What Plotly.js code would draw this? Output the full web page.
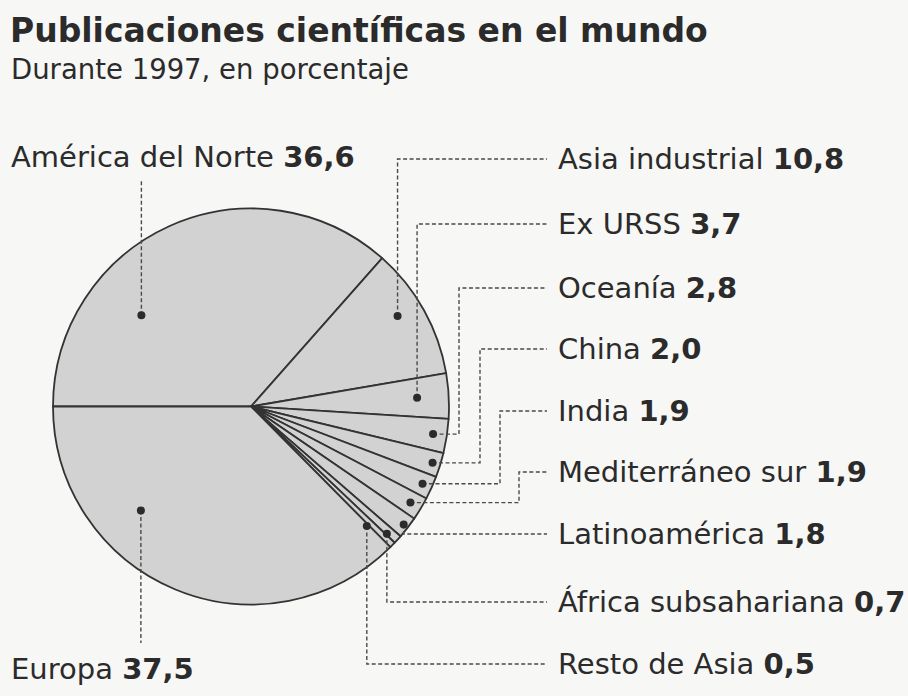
<!DOCTYPE html>
<html>
<head>
<meta charset="utf-8">
<script src="https://cdn.plot.ly/plotly-3.0.1.min.js"></script>
<style>
  html, body { margin: 0; padding: 0; background: #f7f7f6; }
  #chart { width: 908px; height: 696px; }
</style>
</head>
<body>
<div id="chart"></div>
<script>
const W = 908, H = 696;

// clockwise from 9 o'clock
const regions = ['América del Norte', 'Asia industrial', 'Ex URSS', 'Oceanía', 'China', 'India',
    'Mediterráneo sur', 'Latinoamérica', 'África subsahariana', 'Resto de Asia', 'Europa'];
const shares = [36.6, 10.8, 3.7, 2.8, 2.0, 1.9, 1.9, 1.8, 0.7, 0.5, 37.5];

// label layout (pixels)
const labelX = [10, 557, 557, 557, 557, 557, 557, 557, 557, 557, 10];
const labelY = [157, 159, 224, 288, 349, 411, 472, 534, 602, 664, 669];
const elbowX = [null, null, null, 459, 480, 500, 519, null, null, null, null];
const dotFrac = [0.72, 0.87, 0.84, 0.93, 0.96, 0.95, 0.94, 0.975, 0.94, 0.84, 0.765];
const dotShift = [-26, -2.6, 0, 0, 0, 0, 0, 0, 0.9, 1.5, 24];
const tipY = [180, null, null, null, null, null, null, null, null, null, 643];
const leaderEnd = 547;

const pie = {cx: 251, cy: 406.5, r: 198};
const ink = '#2b2b2b';
const px = x => x / W;
const py = y => 1 - y / H;

const total = shares.reduce((a, b) => a + b, 0);
let cum = 0;
const mids = shares.map(v => {
    const m = 270 + 360 * (cum + v / 2) / total;
    cum += v;
    return m;
});

let shapes = [];
let annotations = [];

regions.forEach((name, i) => {
    const phi = (mids[i] + dotShift[i]) * Math.PI / 180;
    const dx = pie.cx + pie.r * dotFrac[i] * Math.sin(phi);
    const dy = pie.cy - pie.r * dotFrac[i] * Math.cos(phi);

    let pts;
    if (tipY[i] !== null) {
        pts = [[dx, dy], [dx, tipY[i]]];
    } else if (elbowX[i] !== null) {
        pts = [[dx, dy], [elbowX[i], dy], [elbowX[i], labelY[i]], [leaderEnd, labelY[i]]];
    } else {
        pts = [[dx, dy], [dx, labelY[i]], [leaderEnd, labelY[i]]];
    }
    shapes.push({
        type: 'path', xref: 'paper', yref: 'paper',
        path: pts.map((p, k) => (k ? 'L' : 'M') + px(p[0]) + ',' + py(p[1])).join(' '),
        line: {color: '#4a4a4a', width: 1.4, dash: '4px,2.5px'}
    });
    shapes.push({
        type: 'circle', xref: 'paper', yref: 'paper',
        x0: px(dx - 4), x1: px(dx + 4), y0: py(dy + 4), y1: py(dy - 4),
        fillcolor: ink, line: {width: 0}
    });

    const val = shares[i].toFixed(1).replace('.', ',');
    annotations.push({
        xref: 'paper', yref: 'paper', x: px(labelX[i]), y: py(labelY[i]),
        xanchor: 'left', yanchor: 'middle', showarrow: false, borderpad: 0,
        text: name + ' <b>' + val + '</b>',
        font: {family: 'DejaVu Sans', size: 29, color: ink}
    });
});

annotations.push({
    xref: 'paper', yref: 'paper', x: px(10), y: py(69),
    xanchor: 'left', yanchor: 'middle', showarrow: false, borderpad: 0,
    text: 'Durante 1997, en porcentaje',
    font: {family: 'DejaVu Sans', size: 27.5, color: ink}
});

const trace = {
    type: 'pie',
    labels: regions,
    values: shares,
    sort: false,
    direction: 'clockwise',
    rotation: 270,
    textinfo: 'none',
    hoverinfo: 'skip',
    domain: {x: [px(pie.cx - pie.r), px(pie.cx + pie.r)], y: [py(pie.cy + pie.r), py(pie.cy - pie.r)]},
    marker: {
        colors: regions.map(() => '#d2d2d2'),
        line: {color: '#333', width: 1.8}
    }
};

const layout = {
    width: W,
    height: H,
    margin: {l: 0, r: 0, t: 0, b: 0},
    paper_bgcolor: '#f7f7f6',
    showlegend: false,
    title: {
        text: '<b>Publicaciones científicas en el mundo</b>',
        font: {family: 'DejaVu Sans', size: 33, color: ink},
        xref: 'paper', yref: 'container',
        x: px(10), xanchor: 'left',
        y: py(30), yanchor: 'middle'
    },
    shapes: shapes,
    annotations: annotations
};

Plotly.newPlot('chart', [trace], layout, {staticPlot: true});
</script>
</body>
</html>
